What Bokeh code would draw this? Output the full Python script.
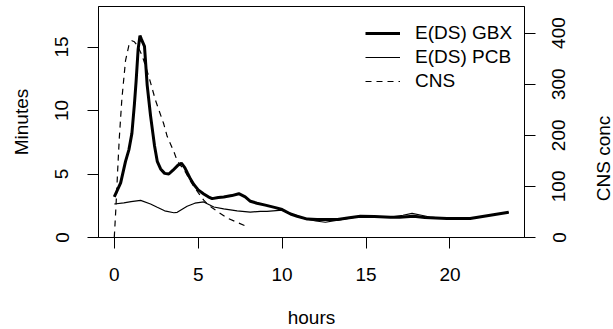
import math
from bokeh.plotting import figure
from bokeh.layouts import row
from bokeh.models import (Range1d, LinearAxis, Legend, LegendItem, FixedTicker, Label,
                          CustomLabelingPolicy)
from bokeh.embed import file_html
from bokeh.resources import INLINE

# ---- data ----
gbx_hours = [0.0, 0.38, 0.67, 0.87, 1.05, 1.2, 1.3, 1.42, 1.53, 1.62, 1.8, 1.96, 2.16, 2.3, 2.4,
             2.56, 2.76, 3.0, 3.25, 3.5, 3.8, 4.0, 4.2, 4.35, 4.54, 4.74, 5.0, 5.33, 5.6, 5.83,
             6.2, 6.52, 7.0, 7.42, 7.8, 8.11, 8.5, 9.0, 9.6, 10.0, 10.5, 10.9, 11.5, 12.08,
             13.3, 14.0, 14.66, 15.5, 16.45, 17.0, 17.83, 18.5, 19.82, 21.2, 22.4, 23.5]
gbx_minutes = [3.2, 4.3, 6.0, 6.9, 8.2, 10.5, 12.3, 14.8, 15.9, 15.6, 15.05, 12.0, 9.6, 8.2, 7.2,
               6.0, 5.4, 5.05, 5.0, 5.3, 5.7, 5.85, 5.5, 5.1, 4.6, 4.17, 3.75, 3.43, 3.2, 3.06,
               3.15, 3.19, 3.3, 3.45, 3.2, 2.85, 2.7, 2.55, 2.35, 2.2, 1.85, 1.67, 1.45, 1.41,
               1.41, 1.55, 1.67, 1.65, 1.59, 1.6, 1.67, 1.58, 1.49, 1.49, 1.75, 1.98]

pcb_hours = [0.0, 0.57, 1.0, 1.57, 2.16, 2.56, 3.0, 3.55, 3.75, 4.34, 4.8, 5.33, 5.93, 6.52,
             7.32, 8.1, 8.7, 9.1, 10.0, 10.5, 10.9, 11.3, 12.0, 12.58, 13.5, 14.66, 15.5,
             16.45, 17.2, 17.74, 18.3, 18.8, 19.82, 21.2, 22.4, 23.5]
pcb_minutes = [2.64, 2.72, 2.82, 2.92, 2.64, 2.38, 2.1, 1.95, 1.98, 2.46, 2.7, 2.8, 2.4, 2.25,
               2.1, 2.0, 2.06, 2.06, 2.15, 1.9, 1.65, 1.5, 1.3, 1.2, 1.41, 1.67, 1.65,
               1.6, 1.75, 1.9, 1.75, 1.6, 1.49, 1.49, 1.75, 1.98]

cns_hours = [0.0, 0.1, 0.2, 0.3, 0.45, 0.67, 0.87, 1.05, 1.2, 1.37, 1.66, 2.04, 2.46, 2.95,
             3.15, 3.55, 3.75, 4.24, 4.54, 4.84, 5.33, 5.54, 5.83, 6.73, 8.0]
cns_conc = [0, 60, 130, 195, 270, 346, 376, 385, 383, 376, 356, 317, 268, 222,
            198, 168, 150, 128, 110, 95, 73, 66, 58, 38, 20]

x_ticks = [0, 5, 10, 15, 20]
minutes_ticks = [0, 5, 10, 15]
conc_ticks = [0, 100, 200, 300, 400]
series_labels = ["E(DS) GBX", "E(DS) PCB", "CNS"]
x_title, y_title, y2_title = "hours", "Minutes", "CNS conc"

FONT = "Liberation Sans"
FS = "19px"

cns_range = Range1d(0, 452)

p = figure(frame_width=426, frame_height=231, output_backend="svg", toolbar_location=None,
           x_range=Range1d(-0.94, 24.44), y_range=Range1d(0, 18.19),
           min_border_left=98, min_border_right=14, min_border_top=6, min_border_bottom=92)
p.extra_y_ranges = {"cns": cns_range}
p.grid.visible = False
p.outline_line_color = "black"
p.outline_line_width = 1
p.outline_line_alpha = 1
p.background_fill_color = "white"
p.border_fill_color = "white"

r1 = p.line(gbx_hours, gbx_minutes, line_color="black", line_width=3)
r2 = p.line(pcb_hours, pcb_minutes, line_color="black", line_width=1.2)
r3 = p.line(cns_hours, cns_conc, line_color="black", line_width=1.2, line_dash="6 5",
            y_range_name="cns")

right = LinearAxis(y_range_name="cns")
p.add_layout(right, "right")

p.xaxis.ticker = FixedTicker(ticks=x_ticks)
p.yaxis[0].ticker = FixedTicker(ticks=minutes_ticks)
right.ticker = FixedTicker(ticks=conc_ticks)

for ax in [p.xaxis[0], p.yaxis[0], right]:
    ax.major_tick_out = 11
    ax.major_tick_in = 0
    ax.minor_tick_out = 0
    ax.minor_tick_in = 0
    ax.axis_line_color = "black"
    ax.major_tick_line_color = "black"
    ax.major_label_text_font = FONT
    ax.major_label_text_font_size = FS
    ax.major_label_text_color = "black"
    ax.axis_label_text_font = FONT
    ax.axis_label_text_font_size = FS
    ax.axis_label_text_font_style = "normal"
    ax.axis_label_text_color = "black"

p.xaxis.major_label_standoff = 19
p.xaxis.axis_label = x_title
p.xaxis.axis_label_standoff = 23

p.yaxis[0].major_label_orientation = "parallel"
p.yaxis[0].major_label_standoff = 19
p.yaxis[0].axis_label = y_title
p.yaxis[0].axis_label_standoff = 21

# right axis of the main plot: ticks only (its numbers are drawn in the strip below)
right.major_label_policy = CustomLabelingPolicy(code="return []")
right.major_label_text_font_size = "1px"
right.major_label_standoff = 0

legend = Legend(items=[LegendItem(label=series_labels[0], renderers=[r1]),
                       LegendItem(label=series_labels[1], renderers=[r2]),
                       LegendItem(label=series_labels[2], renderers=[r3])],
                location=(267, 144))
legend.border_line_alpha = 0
legend.background_fill_alpha = 0
legend.label_text_font = FONT
legend.label_text_font_size = FS
legend.label_text_color = "black"
legend.glyph_width = 35
legend.glyph_height = 20
legend.label_standoff = 15
legend.label_height = 24
legend.spacing = 0
legend.padding = 0
legend.margin = 0
p.add_layout(legend)

# strip on the right: CNS tick numbers (as its own left axis, reading bottom-to-top)
# and the right-axis title
side = figure(frame_width=38, frame_height=231, output_backend="svg", toolbar_location=None,
              x_range=Range1d(0, 38), y_range=cns_range,
              x_axis_location=None, y_axis_location="left",
              min_border_left=37, min_border_right=0, min_border_top=6, min_border_bottom=92)
side.grid.visible = False
side.outline_line_color = None
side.background_fill_color = "white"
side.border_fill_color = "white"
sa = side.yaxis[0]
sa.ticker = FixedTicker(ticks=conc_ticks)
sa.axis_line_color = None
sa.major_tick_line_color = None
sa.major_tick_out = 0
sa.major_tick_in = 0
sa.minor_tick_out = 0
sa.minor_tick_in = 0
sa.major_label_orientation = "parallel"
sa.major_label_standoff = 12
sa.major_label_text_font = FONT
sa.major_label_text_font_size = FS
sa.major_label_text_color = "black"

side.add_layout(Label(x=26, y=154.6, text=y2_title, angle=math.pi / 2,
                      text_font=FONT, text_font_size=FS, text_color="black",
                      text_align="center", text_baseline="middle"))

layout = row(p, side, spacing=0)
open("out.html", "w").write(file_html(layout, INLINE))
